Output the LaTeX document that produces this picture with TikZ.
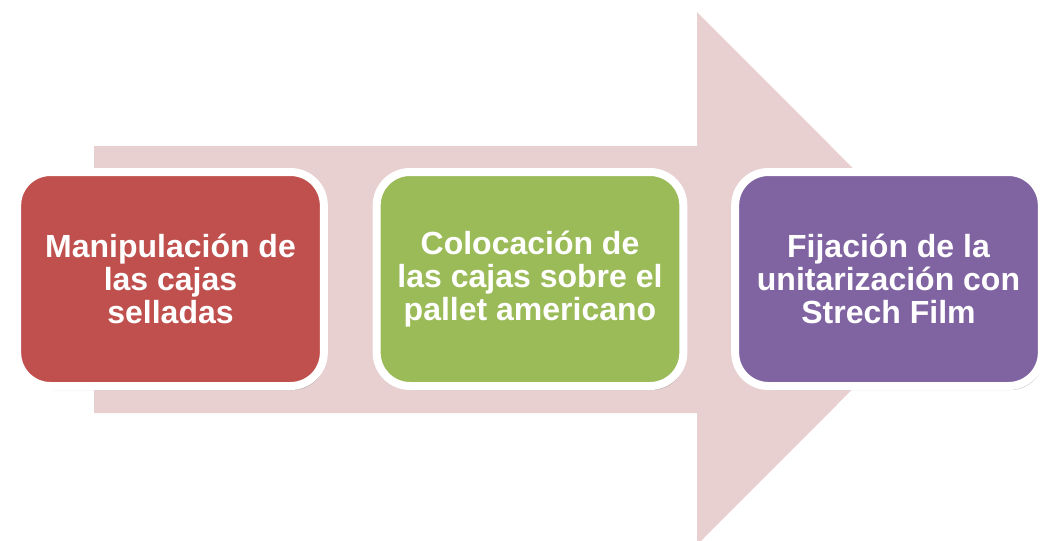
\documentclass[tikz,border=0pt]{standalone}
\usepackage{fontspec}
\setmainfont{Liberation Sans}
\usetikzlibrary{shadows}
\definecolor{arrowpink}{HTML}{E8D0D1}
\definecolor{stepred}{HTML}{C0504D}
\definecolor{stepgreen}{HTML}{9BBB59}
\definecolor{steppurple}{HTML}{8064A2}
\begin{document}
\begin{tikzpicture}[x=0.75pt, y=-0.75pt,
    stepbox/.style={draw=white, line width=6pt, rounded corners=25pt,
        minimum width=230pt, minimum height=160.5pt, align=center,
        text=white, font=\fontsize{24}{24.5}\selectfont\bfseries,
        drop shadow={shadow xshift=1.5pt, shadow yshift=-3pt, opacity=0.45, fill=black!60}}]
    \useasboundingbox (0,0) rectangle (1040,540);

    % Background arrow
    \fill[arrowpink] (94,146) -- (697,146) -- (697,12) -- (963,278.5)
        -- (697,545) -- (697,413) -- (94,413) -- cycle;

    % Step 1
    \node[stepbox, fill=stepred] (handle) at (170.5,279) {Manipulación de\\las cajas\\selladas};

    % Step 2
    \node[stepbox, fill=stepgreen] (place) at (530,279) {Colocación de\\las cajas sobre el\\pallet americano};

    % Step 3
    \node[stepbox, fill=steppurple] (wrap) at (888.5,279) {Fijación de la\\unitarización con\\Strech Film};
\end{tikzpicture}
\end{document}
